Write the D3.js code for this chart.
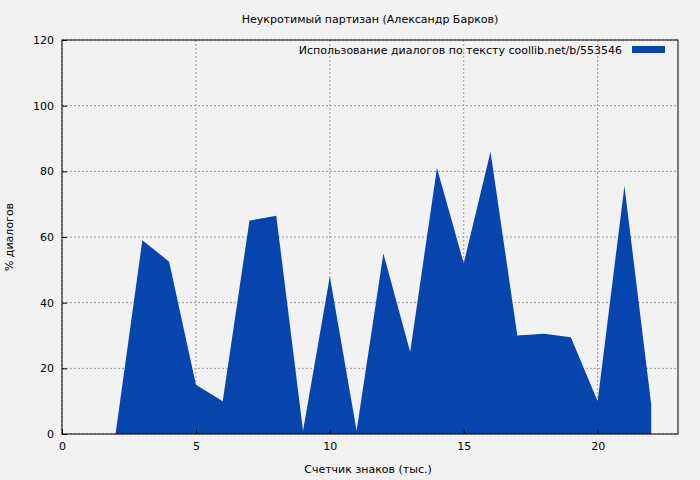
<!DOCTYPE html>
<html><head><meta charset="utf-8">
<script src="https://cdn.jsdelivr.net/npm/d3@7"></script>
<style>body{margin:0;background:#f2f2f2}text{font-family:"DejaVu Sans";font-size:11px;fill:#000}</style>
</head><body><svg id="c" width="700" height="480"></svg>
<script>
const xs=[2,3,4,5,6,7,8,9,10,11,12,13,14,15,16,17,18,19,20,21,22,22];
const ys=[0,59,52.5,15,10,65,66.5,1,48,1,55,25,81,52,86,30,30.5,29.5,10,75.5,9,0];
const xTicks=[0,5,10,15,20];
const yTicks=[0,20,40,60,80,100,120];
const title="Неукротимый партизан (Александр Барков)";
const legend="Использование диалогов по тексту  coollib.net/b/553546";
const svg=d3.select("#c");
svg.append("rect").attr("width",700).attr("height",480).attr("fill","#f2f2f2");
const x=d3.scaleLinear().domain([0,23]).range([62,678]);
const y=d3.scaleLinear().domain([0,120]).range([434,40]);
const g=svg.append("g");
xTicks.forEach(t=>g.append("line").attr("x1",x(t)).attr("x2",x(t)).attr("y1",40).attr("y2",434).attr("stroke","#999").attr("stroke-dasharray","2,2"));
yTicks.forEach(t=>g.append("line").attr("x1",62).attr("x2",678).attr("y1",y(t)).attr("y2",y(t)).attr("stroke","#999").attr("stroke-dasharray","2,2"));
const pts=xs.map((v,i)=>[v,ys[i]]);
svg.append("path").attr("d",d3.area().x(d=>x(d[0])).y0(y(0)).y1(d=>y(d[1]))(pts)).attr("fill","#0645ad");
svg.append("rect").attr("x",62).attr("y",40).attr("width",616).attr("height",394).attr("fill","none").attr("stroke","#000");
svg.append("g").attr("transform","translate(0,434)").call(d3.axisBottom(x).tickValues(xTicks).tickSize(-5).tickPadding(8)).call(a=>a.select(".domain").remove()).selectAll("text").style("font-family","DejaVu Sans").style("font-size","11px");
svg.append("g").attr("transform","translate(62,0)").call(d3.axisLeft(y).tickValues(yTicks).tickSize(-5).tickPadding(8)).call(a=>a.select(".domain").remove()).selectAll("text").style("font-family","DejaVu Sans").style("font-size","11px");
svg.append("text").attr("x",370).attr("y",23).attr("text-anchor","middle").text(title);
svg.append("text").attr("x",368).attr("y",473).attr("text-anchor","middle").text("Счетчик знаков (тыс.)");
svg.append("text").attr("transform","translate(13,237) rotate(-90)").attr("text-anchor","middle").text("% диалогов");
svg.append("text").attr("x",622).attr("y",54).attr("text-anchor","end").text(legend);
svg.append("rect").attr("x",632).attr("y",46).attr("width",33).attr("height",7).attr("fill","#0645ad");
</script></body></html>
